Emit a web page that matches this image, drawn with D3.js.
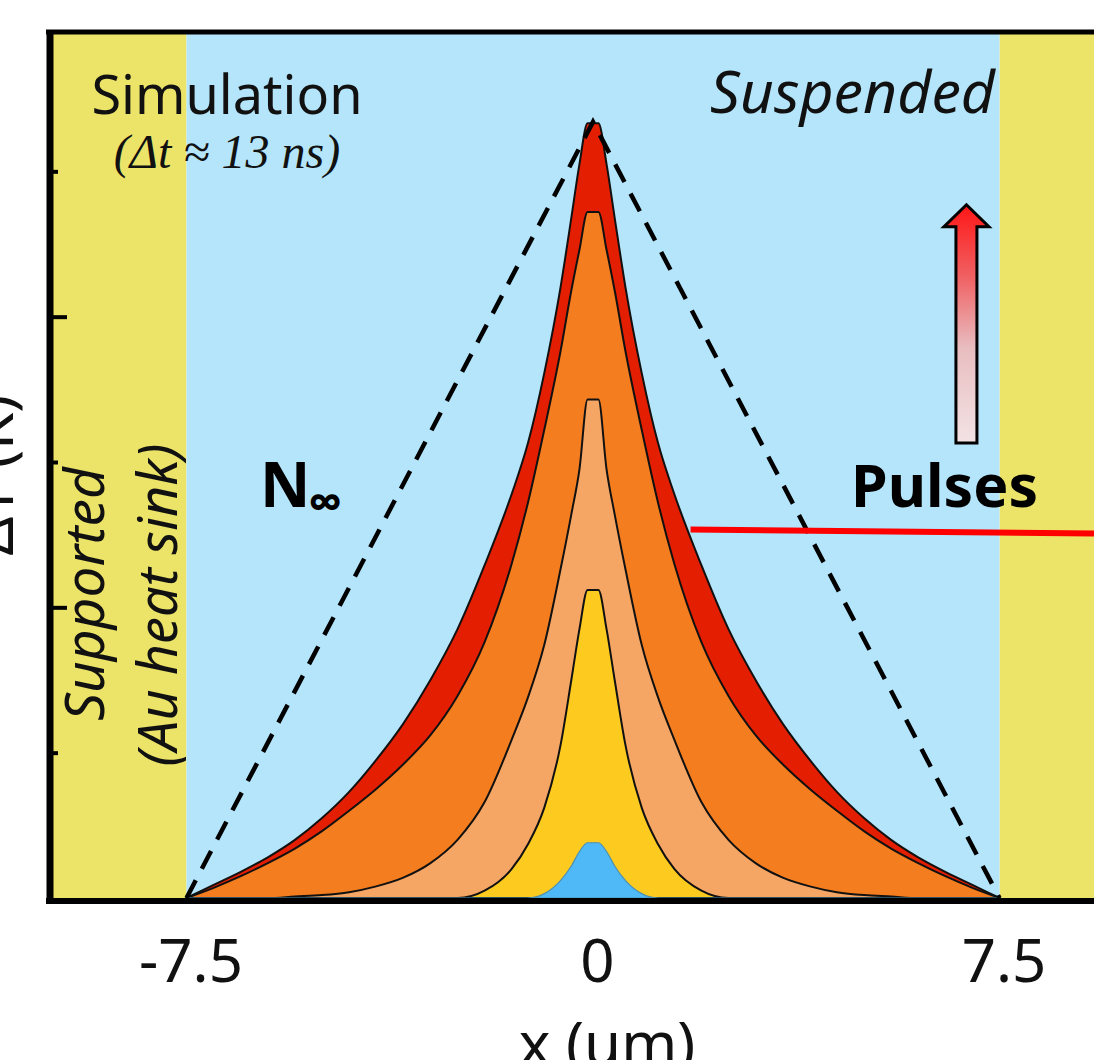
<!DOCTYPE html>
<html>
<head>
<meta charset="utf-8">
<script src="https://cdn.jsdelivr.net/npm/d3@7"></script>
<style>
  html, body { margin: 0; padding: 0; background: #ffffff; }
  svg { display: block; }
</style>
</head>
<body>
<svg id="chart" width="1094" height="1060"></svg>
<script>
// ---------- data ----------
const xGrid = [-7.5,-7,-6.5,-6,-5.5,-5,-4.5,-4,-3.5,-3,-2.5,-2,-1.5,-1.2,-0.9,-0.6,-0.4,-0.25,-0.1,
               0.1,0.25,0.4,0.6,0.9,1.2,1.5,2,2.5,3,3.5,4,4.5,5,5.5,6,6.5,7,7.5];
const pulseRed    = [0,0.09,0.18,0.28,0.40,0.55,0.73,0.95,1.20,1.50,1.85,2.29,2.78,3.13,3.61,4.20,4.68,5.05,5.33,
                     5.33,5.05,4.68,4.20,3.61,3.13,2.78,2.29,1.85,1.50,1.20,0.95,0.73,0.55,0.40,0.28,0.18,0.09,0];
const pulseOrange = [0,0.07,0.15,0.24,0.34,0.46,0.60,0.75,0.92,1.12,1.39,1.76,2.30,2.72,3.22,3.76,4.18,4.46,4.72,
                     4.72,4.46,4.18,3.76,3.22,2.72,2.30,1.76,1.39,1.12,0.92,0.75,0.60,0.46,0.34,0.24,0.15,0.07,0];
const pulseLight  = [0,0,0,0,0.01,0.02,0.04,0.08,0.14,0.24,0.40,0.66,1.09,1.38,1.74,2.26,2.64,2.95,3.43,
                     3.43,2.95,2.64,2.26,1.74,1.38,1.09,0.66,0.40,0.24,0.14,0.08,0.04,0.02,0.01,0,0,0,0];
const pulseYellow = [0,0,0,0,0,0,0,0,0,0,0,0.05,0.20,0.37,0.62,1.05,1.50,1.85,2.12,
                     2.12,1.85,1.50,1.05,0.62,0.37,0.20,0.05,0,0,0,0,0,0,0,0,0,0,0];
const pulseBlue   = [0,0,0,0,0,0,0,0,0,0,0,0,0,0,0.03,0.12,0.22,0.32,0.38,
                     0.38,0.32,0.22,0.12,0.03,0,0,0,0,0,0,0,0,0,0,0,0,0,0];
const seriesNames  = ["pulse 5","pulse 4","pulse 3","pulse 2","pulse 1"];
const seriesColors = ["#e41e00","#f47d20","#f5a665","#fdca20","#4fb9f7"];
const nInfX = [-7.5, 0, 7.5];
const nInfY = [0, 5.34, 0];
const xTickValues = [-7.5, 0, 7.5];
const xTickLabels = ["-7.5", "0", "7.5"];
const yMajorTicks = [2, 4];
const yMinorTicks = [1, 3, 5];
const regionSupported = [[-10, -7.5], [7.5, 10]];
const regionSuspended = [-7.5, 7.5];
const redLineX = [1.8, 10];
const redLineY = [2.535, 2.505];

// ---------- layout ----------
const svg = d3.select("#chart");
const x = d3.scaleLinear().domain([-10, 10]).range([51, 1135]);
const y = d3.scaleLinear().domain([0, 6]).range([898, 26]);
const plotTop = 32, plotBottom = 901;

const defs = svg.append("defs");
const grad = defs.append("linearGradient").attr("id","arrowGrad")
  .attr("x1","0").attr("y1","0").attr("x2","0").attr("y2","1");
[[0,"#ff1616"],[0.3,"#f06062"],[0.6,"#e8bdc0"],[1,"#f3e3e4"]].forEach(s =>
  grad.append("stop").attr("offset", s[0]).attr("stop-color", s[1]));

// background regions
regionSupported.forEach(r => {
  svg.append("rect").attr("x", x(r[0])).attr("y", plotTop)
    .attr("width", x(r[1]) - x(r[0])).attr("height", plotBottom - plotTop)
    .attr("fill", "#ece468");
});
svg.append("rect").attr("x", x(regionSuspended[0])).attr("y", plotTop)
  .attr("width", x(regionSuspended[1]) - x(regionSuspended[0])).attr("height", plotBottom - plotTop)
  .attr("fill", "#b4e5fa");

// curves
const allSeries = [pulseRed, pulseOrange, pulseLight, pulseYellow, pulseBlue];
const area = d3.area().x((d,i) => x(xGrid[i])).y0(y(0)).y1(d => y(d)).curve(d3.curveMonotoneX);
allSeries.forEach((s, k) => {
  svg.append("path").datum(s)
    .attr("d", area)
    .attr("fill", seriesColors[k])
    .attr("stroke", k === 4 ? "#4f8fae" : "#111")
    .attr("stroke-width", k === 4 ? 1.2 : 2)
    .attr("stroke-linejoin", "round");
});

// N-infinity dashed triangle
svg.append("path").datum(nInfX.map((v,i) => [v, nInfY[i]]))
  .attr("d", d3.line().x(d => x(d[0])).y(d => y(d[1])))
  .attr("fill", "none").attr("stroke", "#000").attr("stroke-width", 4.5)
  .attr("stroke-dasharray", "20,13");

// red horizontal line
svg.append("line")
  .attr("x1", x(redLineX[0])).attr("y1", y(redLineY[0]))
  .attr("x2", x(redLineX[1])).attr("y2", y(redLineY[1]))
  .attr("stroke", "#ff0000").attr("stroke-width", 6);

// arrow (pulses increasing)
const ax = x(6.89), tipY = y(4.77), baseY = y(3.13);
svg.append("path")
  .attr("d", `M${ax-10.5},${baseY} L${ax-10.5},${tipY+22} L${ax-22.5},${tipY+22} L${ax},${tipY} L${ax+22.5},${tipY+22} L${ax+10.5},${tipY+22} L${ax+10.5},${baseY} Z`)
  .attr("fill", "url(#arrowGrad)").attr("stroke", "#000").attr("stroke-width", 3)
  .attr("stroke-linejoin", "miter");

// texts
const sans = "'Noto Sans', 'Open Sans', sans-serif";
svg.append("text").attr("x", 227).attr("y", 114).attr("text-anchor","middle")
  .attr("font-family", sans).attr("font-size", 54).attr("fill","#111").text("Simulation");
svg.append("text").attr("x", 227).attr("y", 168).attr("text-anchor","middle")
  .attr("font-family", "'Liberation Serif', 'DejaVu Serif', serif").attr("font-style","italic")
  .attr("font-size", 48).attr("fill","#111").text("(\u0394t \u2248 13 ns)");
svg.append("text").attr("x", 995).attr("y", 113).attr("text-anchor","end")
  .attr("font-family", sans).attr("font-style","italic").attr("font-size", 59)
  .attr("fill","#111").text("Suspended");
svg.append("text").attr("transform","translate(104,594) rotate(-90)").attr("text-anchor","middle")
  .attr("font-family", sans).attr("font-style","italic").attr("font-size", 55)
  .attr("fill","#111").text("Supported");
svg.append("text").attr("transform","translate(177,605) rotate(-90)").attr("text-anchor","middle")
  .attr("font-family", sans).attr("font-style","italic").attr("font-size", 54)
  .attr("fill","#111").text("(Au heat sink)");
svg.append("text").attr("x", 851).attr("y", 507)
  .attr("font-family", sans).attr("font-weight","bold").attr("font-size", 59)
  .attr("fill","#000").text("Pulses");
svg.append("text").attr("x", 260).attr("y", 507)
  .attr("font-family", sans).attr("font-weight","bold").attr("font-size", 62)
  .attr("fill","#000").text("N");
svg.append("text").attr("x", 308).attr("y", 519)
  .attr("font-family", sans).attr("font-weight","bold").attr("font-size", 48)
  .attr("fill","#000").text("\u221E");

// axis frame
svg.append("line").attr("x1", 46).attr("x2", 1094).attr("y1", plotTop).attr("y2", plotTop)
  .attr("stroke","#000").attr("stroke-width", 5);
svg.append("line").attr("x1", 46).attr("x2", 1094).attr("y1", plotBottom).attr("y2", plotBottom)
  .attr("stroke","#000").attr("stroke-width", 6);

const yMajor = d3.axisRight(y).tickValues(yMajorTicks).tickSize(17).tickFormat("");
const yMinor = d3.axisRight(y).tickValues(yMinorTicks).tickSize(8).tickFormat("");
[yMajor, yMinor].forEach(a => {
  const g = svg.append("g").attr("transform", "translate(50,0)").call(a);
  g.select(".domain").remove();
  g.selectAll(".tick line").attr("stroke","#000").attr("stroke-width", 4);
});
svg.append("line").attr("x1", 50).attr("x2", 50).attr("y1", 30).attr("y2", 904)
  .attr("stroke","#000").attr("stroke-width", 7);

// x tick labels
const xAxis = d3.axisBottom(x).tickValues(xTickValues).tickSize(0)
  .tickFormat((d,i) => xTickLabels[i]);
const gx = svg.append("g").attr("transform", `translate(4,${plotBottom})`).call(xAxis);
gx.select(".domain").remove();
gx.selectAll(".tick text").attr("font-family", sans).attr("font-size", 60)
  .attr("fill","#111").attr("dy", null).attr("y", 81);

// axis titles (cut by the picture edge, as in the reference)
svg.append("text").attr("x", 607).attr("y", 1065).attr("text-anchor","middle")
  .attr("font-family", sans).attr("font-size", 60).attr("fill","#111").text("x (um)");
svg.append("text").attr("transform","translate(13,475) rotate(-90)").attr("text-anchor","middle")
  .attr("font-family", sans).attr("font-size", 60).attr("fill","#111").text("\u0394T (K)");
</script>
</body>
</html>
